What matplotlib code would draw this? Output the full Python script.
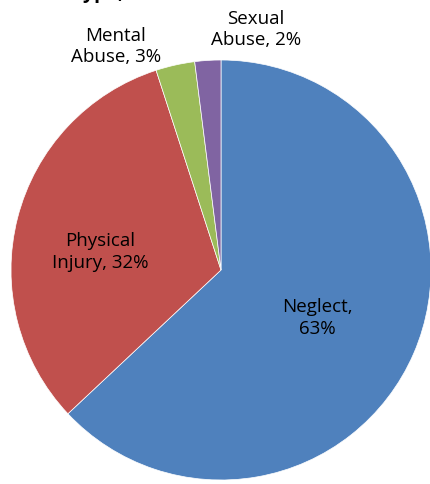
import matplotlib
matplotlib.use("Agg")
import matplotlib.pyplot as plt

plt.rcParams['font.family'] = ['Open Sans', 'DejaVu Sans']

categories = ['Neglect', 'Physical\nInjury', 'Mental\nAbuse', 'Sexual\nAbuse']
shares = [63, 32, 3, 2]
colors = ['#4F81BD', '#C0504D', '#9BBB59', '#8064A2']

# label anchor spots (pie radius = 1)
label_pos = [(0.46, -0.225), (-0.575, 0.09), (-0.50, 1.07), (0.165, 1.15)]

W, H = 431, 485
fig = plt.figure(figsize=(W / 100, H / 100), dpi=100)
cx, cy, r = 221, 271, 210
ax = fig.add_axes([(cx - r) / W, (H - cy - r) / H, 2 * r / W, 2 * r / H])

ax.pie(shares, colors=colors, startangle=90, counterclock=False, radius=1,
       wedgeprops=dict(linewidth=0.5, edgecolor='white'))
ax.set_xlim(-1, 1)
ax.set_ylim(-1, 1)
ax.set_aspect('equal')
ax.axis('off')

for name, val, (x, y) in zip(categories, shares, label_pos):
    if name == 'Neglect':
        txt = f"{name},\n{val}%"
    else:
        first, second = name.split('\n')
        txt = f"{first}\n{second}, {val}%"
    ax.text(x, y, txt, ha='center', va='center', fontsize=13.5,
            linespacing=1.25, color='black', clip_on=False)

# title sits mostly above the canvas, only its descenders peek in
fig.text(7 / W, 1 + 2 / H, "Abuse Type, 2012", ha='left', va='baseline',
         fontsize=14, fontweight='bold')

fig.savefig("out.png", dpi=100)
